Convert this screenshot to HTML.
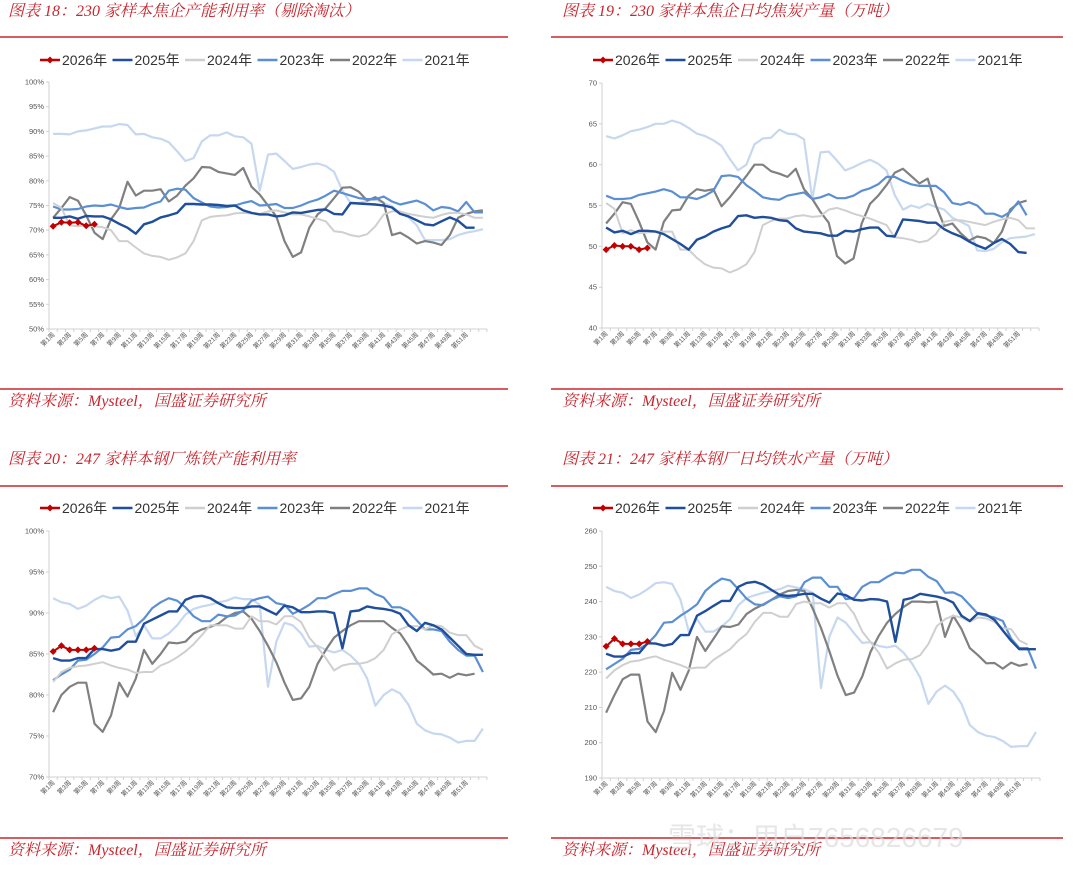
<!DOCTYPE html>
<html><head><meta charset="utf-8">
<style>
html,body{margin:0;padding:0;background:#fff;}
svg{display:block;font-family:"Liberation Sans","Noto Sans CJK SC",sans-serif;}
.t{font-family:"Liberation Serif","Noto Serif CJK SC",serif;font-style:italic;fill:#c8262e;font-size:16px;}
</style></head><body>
<svg id="pg" width="1080" height="872" viewBox="0 0 1080 872" xmlns="http://www.w3.org/2000/svg">
<text class="t" x="8" y="16">图表 18：230 家样本焦企产能利用率（剔除淘汰）</text>
<text class="t" x="562" y="16">图表 19：230 家样本焦企日均焦炭产量（万吨）</text>
<text class="t" x="8" y="464">图表 20：247 家样本钢厂炼铁产能利用率</text>
<text class="t" x="562" y="464">图表 21：247 家样本钢厂日均铁水产量（万吨）</text>
<g stroke="#c8262e" stroke-width="1.5">
<line x1="0" y1="37" x2="508" y2="37"/><line x1="551" y1="37" x2="1063" y2="37"/>
<line x1="0" y1="389" x2="508" y2="389"/><line x1="551" y1="389" x2="1063" y2="389"/>
<line x1="0" y1="486" x2="508" y2="486"/><line x1="551" y1="486" x2="1063" y2="486"/>
<line x1="0" y1="838" x2="508" y2="838"/><line x1="551" y1="838" x2="1063" y2="838"/>
</g>
<text class="t" x="8" y="406">资料来源：Mysteel，国盛证券研究所</text>
<text class="t" x="562" y="406">资料来源：Mysteel，国盛证券研究所</text>
<text class="t" x="8" y="855">资料来源：Mysteel，国盛证券研究所</text>
<text class="t" x="562" y="855">资料来源：Mysteel，国盛证券研究所</text>
<text x="668" y="847" font-size="28" fill="#dcdcdc" fill-opacity="0.7">雪球：用户7656826679</text>
</svg>
<script>
const c1_2021=[89.5,89.5,89.4,90,90.2,90.6,91,91,91.5,91.3,89.4,89.5,88.8,88.5,87.8,86,84,84.6,88,89.2,89.2,89.8,89,88.8,87.5,78,85.3,85.5,84,82.4,82.8,83.3,83.5,83,81.8,78,75.5,75.5,76,76.2,75.5,74.8,73.5,72.6,71,68,68,68,68.2,69,69.5,69.8,70.2];
const c1_2022=[72.5,74.5,76.7,76,73,69.5,68.2,72.2,74.5,79.8,77,78,78,78.3,75.8,77,79,80.5,82.8,82.7,81.8,81.5,81.2,82.6,78.8,77.2,75,72.8,67.8,64.6,65.5,70.5,73.2,74.5,76.5,78.6,78.7,77.8,76,76.7,75.5,69,69.5,68.5,67.3,67.8,67.5,67,69,72.5,73.3,73.8,74];
const c1_2023=[74.8,74.2,74.2,74.3,74.8,75,74.9,75.2,74.7,74.3,74.5,74.6,75.3,75.8,78,78.4,78.2,76.5,75.6,74.8,74.6,74.7,75,75.5,75.9,75,75.1,75.3,74.5,74.5,75,75.7,76.2,77,78,77.5,77,76.5,76.3,76.3,76.8,75.8,75.2,75.6,76,75.3,74,74.7,74.5,73.8,75.7,73.6,73.6];
const c1_2024=[75.5,74.5,71,70.8,71,70.8,70.6,70,67.8,67.8,66.5,65.3,64.8,64.6,64,64.5,65.3,67.8,72,72.7,72.9,73,73.4,73.5,73.4,73.3,73.8,74,73.6,73.2,73.2,72.8,72.3,71.8,69.8,69.6,69,68.7,69.2,70.8,73.2,73.8,73.8,73.3,73,72.7,72.5,73.1,73.5,73.5,73.2,72.5,72.5];
const c1_2025=[72.5,72.5,72.8,72.3,72.9,72.8,72.8,72.2,71.3,70.5,69.3,71.2,71.7,72.6,73,73.5,75.3,75.3,75.2,75.2,75.1,74.9,75,74,73.5,73.2,73.2,72.8,73,73.6,73.5,73.8,74.1,74.2,73.3,73.2,75.5,75.4,75.3,75.2,75,74.6,73.3,72.8,72,71.2,71,71.8,72.6,71.9,70.5,70.5];
const c1_2026=[70.8,71.6,71.5,71.6,70.9,71.2];

const c2_2021=[63.5,63.2,63.6,64.1,64.3,64.6,65,65,65.4,65.1,64.5,63.8,63.5,63,62.3,60.7,59.3,60,62.5,63.2,63.3,64.3,63.8,63.7,63.1,55.8,61.5,61.6,60.5,59.3,59.7,60.2,60.6,60.1,59.3,56.3,54.5,55,54.7,55.2,54.8,54.5,53.5,53,52.5,49.5,49.4,49.7,50.5,51,51.1,51.2,51.5];
const c2_2022=[52.8,54,55.4,55.2,53,50.5,49.6,53,54.4,54.5,56.2,57,56.8,57,54.9,56,57.3,58.6,60,60,59.2,58.9,58.5,59.5,57,55.8,54.2,52.9,48.8,47.9,48.5,52.8,55.2,56.2,57.5,59,59.5,58.6,57.7,58.3,55,52.5,52.8,51.6,50.7,51.2,51,50.4,51.8,54.5,55.3,55.6];
const c2_2023=[56.2,55.8,55.8,55.9,56.3,56.5,56.7,57,56.7,56,56,55.8,56.2,56.8,58.6,58.7,58.5,57.5,56.8,56,55.8,55.7,56.2,56.4,56.6,55.8,56,56.4,55.9,55.9,56.2,56.8,57.1,57.6,58.5,58.5,58,57.6,57.4,57.4,57.4,56.6,55.3,55.1,55.4,55,54,54,53.6,54.2,55.5,53.8];
const c2_2024=[55.3,54.6,51.6,52,51.6,51.7,51.8,51.8,51.8,49.6,49.6,48.6,47.8,47.4,47.3,46.8,47.2,47.8,49.3,52.6,53.1,53.4,53.4,53.7,53.8,53.6,53.7,54.5,54.7,54.4,54,53.7,53.4,53,52.6,51.1,51,50.8,50.5,50.7,51.5,53,53.2,53.2,53,52.8,52.6,53,53.3,53.5,53.2,52.2,52.2];
const c2_2025=[52.3,51.7,51.9,51.5,51.9,51.9,51.8,51.5,50.9,50.3,49.6,50.8,51.2,51.8,52.2,52.5,53.7,53.8,53.5,53.6,53.5,53.2,53.1,52.2,51.8,51.7,51.6,51.3,51.3,51.9,51.8,52.1,52.3,52.3,51.3,51.2,53.3,53.2,53.1,52.9,52.9,52.1,51.6,51.2,50.6,50.1,49.7,50.4,50.9,50.3,49.3,49.2];
const c2_2026=[49.6,50.1,50,50,49.6,49.8];

const c3_2021=[91.8,91.3,91.1,90.5,90.9,91.6,92.1,91.8,92,90.3,87.2,88.5,86.9,86.9,87.5,88.5,89.8,90.5,90.8,91,91.3,91.5,91.9,91.7,91.7,91,81,86.5,88.8,88.5,87.5,85.9,86,85.5,85.2,85.5,84.8,83.8,82,78.7,80,80.7,80.2,78.8,76.5,75.7,75.3,75.2,74.8,74.2,74.4,74.4,75.9];
const c3_2022=[77.9,80,81,81.5,81.5,76.5,75.5,77.5,81.5,79.8,82,85.5,83.8,85,86.4,86.3,86.5,87.5,88,88.3,88.7,89.5,90,90.2,89.3,87.8,86,84,81.5,79.4,79.6,81,83.8,85.5,87,87.8,88.5,89,89,89,89,88.2,87.5,86,84.2,83.4,82.5,82.6,82.1,82.6,82.4,82.6];
const c3_2023=[81.8,82.5,83.1,84.2,84.3,85,85.8,87,87.1,88,88.4,89.3,90.6,91.3,91.8,91.5,90.7,89.6,89,89,89.8,89.6,89.7,90.3,91.5,91.8,92,91.2,91,89.9,90.4,91,91.8,91.8,92.3,92.7,92.7,93,93,92.3,91.9,90.7,90.7,90.2,89.1,88,88,87.8,86.5,85.5,84.8,84.8,82.8];
const c3_2024=[81.6,82.8,83.3,83.5,83.6,83.8,84,83.6,83.3,83.1,82.7,82.8,82.8,83.6,84,84.6,85.3,86.2,87.3,88.5,88.5,88.5,88.1,88.1,89.6,89,89,88.6,89.6,89.6,88.9,87,85.8,84.5,83,83.6,83.8,83.8,84,84.5,85.5,87.4,88,88.4,88.4,88,88.5,88.4,87.6,87.3,87.3,86,85.5];
const c3_2025=[84.5,84.2,84.2,84.5,84.5,85.6,85.6,85.4,85.6,86.5,86.5,88.7,89.2,89.7,90.2,90.2,91.6,92,92.1,91.8,91.2,90.7,90.6,90.6,90.8,90.8,90.3,89.8,90.9,90.7,90.1,90.1,90.2,90.2,90,85.7,90.2,90.3,90.8,90.6,90.5,90.3,89.9,88.5,87.8,88.8,88.5,88,87,86,85,84.9,84.9];
const c3_2026=[85.3,86,85.5,85.5,85.5,85.7];

const c4_2021=[244.2,243,242.5,241,242,243.5,245.2,245.5,245,240.5,231.5,235,231.5,231.5,233,235,239,241,241.8,242.5,243,243.5,244.5,244,243.5,242.5,215.5,230,235.5,234,231,228.3,228.5,227.4,227,227.5,225.5,222.5,218.5,211,214.5,216.2,214.5,211,205,203,202,201.6,200.5,198.8,199,199,203];
const c4_2022=[208.5,213.5,218,219.3,219.3,206,203,209,219.8,215,220.5,230,226,229.5,233,232.8,233.5,236.5,238,239.2,240.5,242,243,243.3,243,238,232.5,226,219,213.5,214.2,218.8,225.8,230.3,234,236.5,238.5,240,240,239.8,240,230,236,232.2,226.8,224.8,222.5,222.6,221,222.7,221.8,222.3];
const c4_2023=[220.8,222.3,223.8,226.3,226.6,228,230.5,234,234.2,236,237.5,239.2,243,245,246.5,246,243.5,240.8,239.2,239,240.5,241.5,241,241.5,245.5,246.8,246.8,244.2,244.2,240.7,241,244.2,245.5,245.5,247,248.2,248,249,249,247,245.8,242.5,242.6,241.5,239,236.5,236,235.5,234.5,229.5,226.8,226.8,221];
const c4_2024=[218.2,220.5,222,223,223.3,224,224.5,223.5,222.8,222,221,221.3,221.3,223.5,225,226.5,229,230.8,234.3,236.8,236.8,235.7,235.7,239.3,240,239.5,239.5,238.3,239.5,239.5,236.5,231.5,228.5,225.5,221,222.5,223.5,223.7,224.8,228,233,235,236,235.5,234.3,235.5,235.2,234.2,232.5,232.2,229,227.8];
const c4_2025=[225.2,224.4,224.4,225.4,225.4,228.2,228.1,227.5,228,230.5,230.5,236,237.3,238.8,240.2,240.2,244.2,245.3,245.6,244.8,243.3,241.9,241.6,241.8,242.2,242.2,240.8,239.7,242.3,241.8,240.5,240.3,240.7,240.6,240,228.6,240.5,241,242.2,241.8,241.4,240.8,239.7,236,234.5,236.7,236.3,234.8,231.8,228.9,226.5,226.5,226.5];
const c4_2026=[227.3,229.5,228,228,228,228.7];

const seriesNames=["2026年","2025年","2024年","2023年","2022年","2021年"];
const c1Ticks=[50,55,60,65,70,75,80,85,90,95,100];
const c2Ticks=[40,45,50,55,60,65,70];
const c3Ticks=[70,75,80,85,90,95,100];
const c4Ticks=[190,200,210,220,230,240,250,260];
const weekCount=53;

const NS="http://www.w3.org/2000/svg";
const svg=document.getElementById('pg');
const colors={"2026年":"#c00000","2025年":"#1f4e9c","2024年":"#cfcfcf","2023年":"#5b8fd3","2022年":"#808080","2021年":"#c6d8ef"};
const widths={"2026年":2,"2025年":2.4,"2024年":2,"2023年":2.2,"2022年":2.2,"2021年":2.2};
function mk(tag,attrs,parent){const e=document.createElementNS(NS,tag);for(const k in attrs)e.setAttribute(k,attrs[k]);(parent||svg).appendChild(e);return e;}

function drawChart(id,box,ticks,pct,data){
  const g=mk('g',{});
  
  
  const min=ticks[0],max=ticks[ticks.length-1];
  const yS=v=>box.bot-(v-min)/(max-min)*(box.bot-box.top);
  const xS=i=>box.L+(i+0.5)*(box.R-box.L)/weekCount;
  const lg=mk('g',{},g);
  
  
  seriesNames.forEach((n,k)=>{
    const lx=box.lx+k*72.5;
    const it=mk('g',{},lg);
    
    
    mk('line',{x1:lx,y1:box.ly,x2:lx+20,y2:box.ly,stroke:colors[n],'stroke-width':2.4},it);
    if(k===0)mk('path',{d:`M${lx+10} ${box.ly-3.5}L${lx+13.5} ${box.ly}L${lx+10} ${box.ly+3.5}L${lx+6.5} ${box.ly}Z`,fill:colors[n]},it);
    const t=mk('text',{x:lx+22,y:box.ly+5,'font-size':14,fill:'#333'},it);t.textContent=n;
  });
  const ax=mk('g',{},g);
  
  
  mk('line',{x1:box.L,y1:box.top,x2:box.L,y2:box.bot,stroke:'#d0d0d0','stroke-width':1},ax);
  mk('line',{x1:box.L,y1:box.bot,x2:box.R,y2:box.bot,stroke:'#d0d0d0','stroke-width':1},ax);
  ticks.forEach(v=>{
    const y=yS(v);
    mk('line',{x1:box.L-3,y1:y,x2:box.L,y2:y,stroke:'#d0d0d0'},ax);
    const t=mk('text',{x:box.L-5,y:y+2.5,'font-size':7.5,fill:'#555','text-anchor':'end'},ax);
    t.textContent=pct?v+'%':v;
  });
  for(let i=0;i<=weekCount;i++){
    const x=box.L+i*(box.R-box.L)/weekCount;
    mk('line',{x1:x,y1:box.bot,x2:x,y2:box.bot+3,stroke:'#d0d0d0'},ax);
  }
  for(let i=0;i<weekCount-1;i+=2){
    const x=xS(i);
    const t=mk('text',{x:x+2,y:box.bot+6,'font-size':6.5,fill:'#555','text-anchor':'end',transform:`rotate(-45 ${x+2} ${box.bot+6})`},ax);
    t.textContent='第'+(i+1)+'周';
  }
  for(let k=seriesNames.length-1;k>=0;k--){
    const n=seriesNames[k];const arr=data[k];
    const d=arr.map((v,i)=>(i?'L':'M')+xS(i).toFixed(1)+' '+yS(v).toFixed(1)).join('');
    const p=mk('path',{d:d,fill:'none',stroke:colors[n],'stroke-width':widths[n],'stroke-linejoin':'round'},g);
    
    
    if(k===0){
      arr.forEach((v,i)=>{
        const x=xS(i),y=yS(v);
        const m=mk('path',{d:`M${x} ${y-3.5}L${x+3.5} ${y}L${x} ${y+3.5}L${x-3.5} ${y}Z`,fill:colors[n]},g);
        
        
      });
    }
  }
}
drawChart('chart18',{L:49,R:487,top:82,bot:329,lx:40,ly:60},c1Ticks,true,[c1_2026,c1_2025,c1_2024,c1_2023,c1_2022,c1_2021]);
drawChart('chart19',{L:602,R:1039,top:83,bot:328,lx:593,ly:60},c2Ticks,false,[c2_2026,c2_2025,c2_2024,c2_2023,c2_2022,c2_2021]);
drawChart('chart20',{L:49,R:487,top:531,bot:777,lx:40,ly:508},c3Ticks,true,[c3_2026,c3_2025,c3_2024,c3_2023,c3_2022,c3_2021]);
drawChart('chart21',{L:602,R:1040,top:531,bot:778,lx:593,ly:508},c4Ticks,false,[c4_2026,c4_2025,c4_2024,c4_2023,c4_2022,c4_2021]);
</script>
</body></html>
